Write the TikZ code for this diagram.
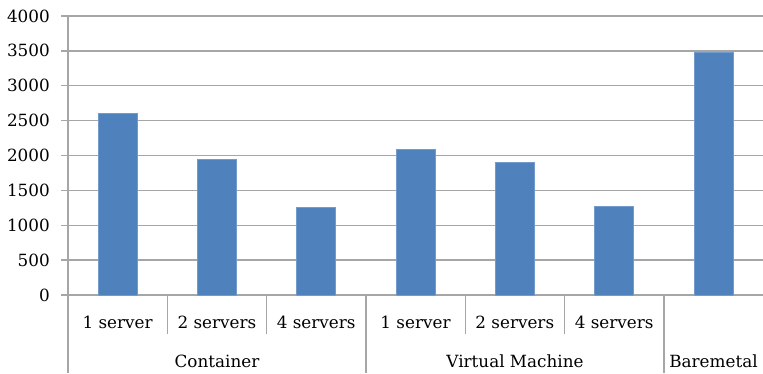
\documentclass[tikz,border=0pt]{standalone}
\usepackage{fontspec}
\setmainfont{DejaVu Serif}
\usepackage{xcolor}
\definecolor{barblue}{HTML}{4F81BD}
\definecolor{gridgray}{HTML}{A6A6A6}
\begin{document}
\begin{tikzpicture}[x=1pt,y=-1pt,
  grid/.style={draw=gridgray,line width=1.4pt},
  bar/.style={fill=barblue,draw=barblue!80!white,line width=0.6pt},
  lbl/.style={font=\fontsize{16.8}{20}\selectfont,inner sep=0pt},
  ylbl/.style={lbl,anchor=east}]
\useasboundingbox (0,0) rectangle (763,373);
% horizontal grid lines and value labels
\foreach \v [count=\i from 0] in {0,500,...,4000}{
  \pgfmathsetmacro{\yy}{295-\i*34.875}
  \draw[grid] (61,\yy) -- (763,\yy);
  \node[ylbl] (y\i) at (50,\yy) {\v};
}
% value axis
\draw[grid] (68,16) -- (68,373);
% category dividers
\foreach \xx in {167.3,266.6,465.2,564.5}{
  \draw[grid] (\xx,295) -- (\xx,334);
}
\foreach \xx in {365.9,664.1}{
  \draw[grid] (\xx,295) -- (\xx,373);
}
% bars
\foreach \val [count=\i from 0] in {2610,1940,1260,2090,1900,1270,3480}{
  \pgfmathsetmacro{\cx}{68+99.3*(\i+0.5)}
  \pgfmathsetmacro{\top}{295-\val*0.06975}
  \fill[bar] (\cx-19.5,\top) rectangle (\cx+19.5,295);
}
% category labels
\node[lbl] (c1) at (117.6,322) {1 server};
\node[lbl] (c2) at (216.9,322) {2 servers};
\node[lbl] (c3) at (316.2,322) {4 servers};
\node[lbl] (v1) at (415.5,322) {1 server};
\node[lbl] (v2) at (514.8,322) {2 servers};
\node[lbl] (v3) at (614.1,322) {4 servers};
\node[lbl] (g1) at (217,361) {Container};
\node[lbl] (g2) at (515,361) {Virtual Machine};
\node[lbl] (g3) at (713.5,361) {Baremetal};
\end{tikzpicture}
\end{document}
